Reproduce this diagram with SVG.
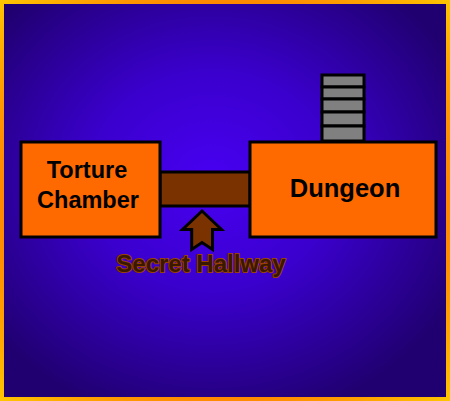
<svg xmlns="http://www.w3.org/2000/svg" width="450" height="401" viewBox="0 0 450 401">
<defs>
<radialGradient id="bg" cx="0.47" cy="0.45" r="0.62">
<stop offset="0" stop-color="#4800F2"/>
<stop offset="0.45" stop-color="#3A00CC"/>
<stop offset="1" stop-color="#200070"/>
</radialGradient>
<radialGradient id="frame" cx="0.5" cy="0.5" r="0.72">
<stop offset="0" stop-color="#FF5500"/>
<stop offset="0.6" stop-color="#FF7700"/>
<stop offset="1" stop-color="#FFC800"/>
</radialGradient>
<style>
.room{fill:#FF6A00;stroke:#000;stroke-width:3}
.lbl{font-family:"Liberation Sans",Arial,sans-serif;font-weight:bold;fill:#000;text-anchor:middle}
.step{fill:#808080;stroke:#000;stroke-width:3}
.brown{fill:#7A3300;stroke:#000;stroke-width:3}
</style>
</defs>
<rect x="2" y="2" width="446" height="397" fill="url(#bg)" stroke="url(#frame)" stroke-width="4"/>
<g id="connectors">
<rect id="hallway" class="brown" x="160" y="172" width="90" height="34"/>
</g>
<g id="tower">
<rect class="step" x="322" y="75" width="42" height="12"/>
<rect class="step" x="322" y="87" width="42" height="12"/>
<rect class="step" x="322" y="99" width="42" height="13"/>
<rect class="step" x="322" y="112" width="42" height="14"/>
<rect class="step" x="322" y="126" width="42" height="15"/>
</g>
<g id="torture-chamber">
<rect class="room" x="21" y="142" width="139" height="95"/>
<text class="lbl" x="87" y="178" font-size="23.5">Torture</text>
<text class="lbl" x="88" y="208" font-size="23.5">Chamber</text>
</g>
<g id="dungeon">
<rect class="room" x="250" y="142" width="186" height="95"/>
<text class="lbl" x="345" y="197" font-size="25.5">Dungeon</text>
</g>
<g id="secret-hallway">
<path class="brown" stroke-width="2.5" stroke-linejoin="miter" d="M202,211 L182.5,229.5 L191.7,229.5 L191.7,249.5 L202,242.5 L212.5,249.5 L212.5,229.5 L221.5,229.5 Z"/>
<text x="201" y="272" font-family="'Liberation Sans',Arial,sans-serif" font-weight="bold" font-size="24" text-anchor="middle" fill="#3A1800" stroke="#9A4000" stroke-width="2" paint-order="stroke" stroke-linejoin="round">Secret Hallway</text>
</g>
</svg>
